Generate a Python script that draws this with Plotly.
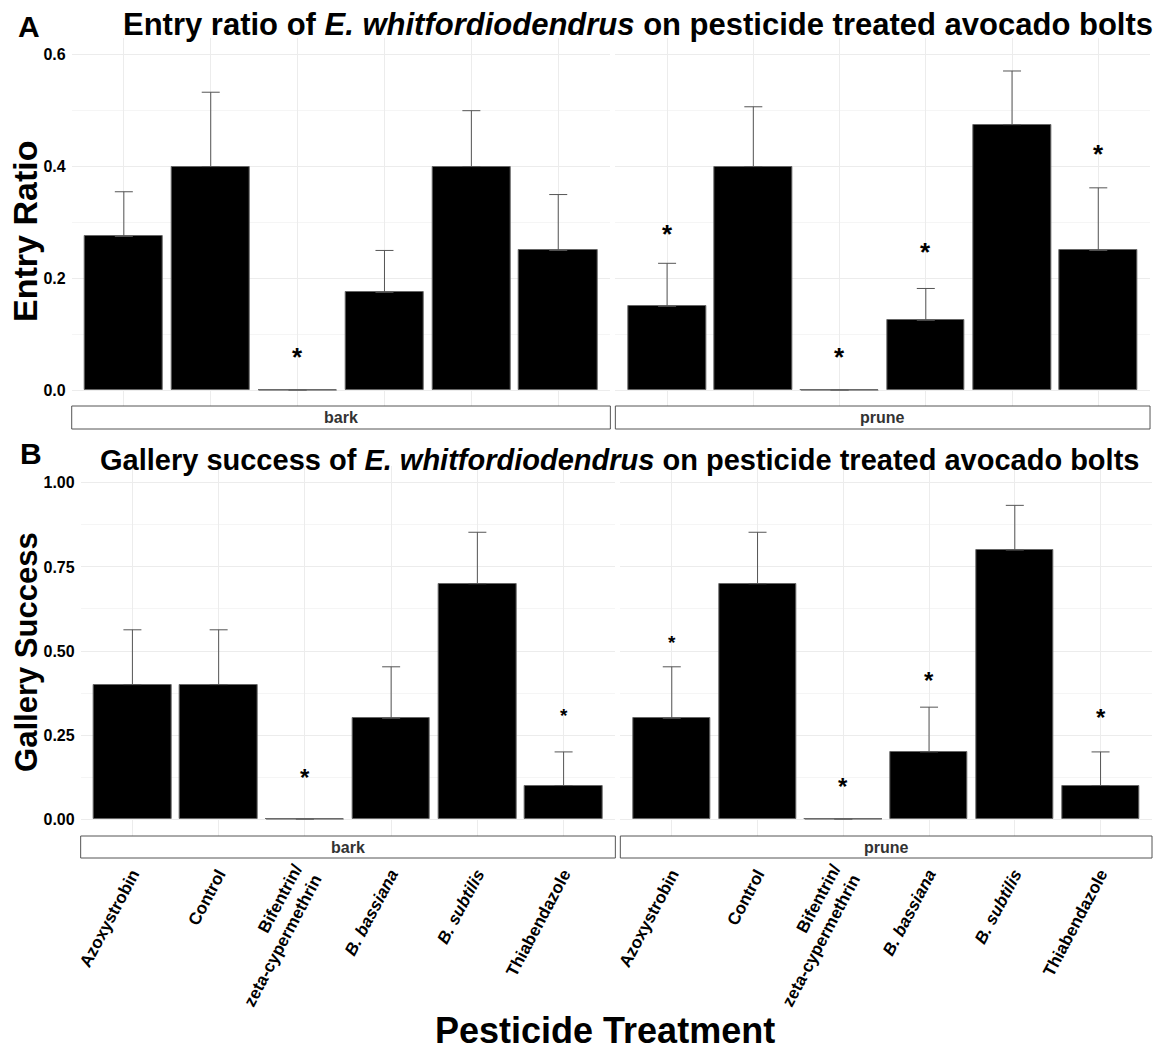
import plotly.graph_objects as go

W, H = 1155, 1053

# ---------------- data ----------------
treatments = ["Azoxystrobin", "Control", "Bifentrin/<br>zeta-cypermethrin",
              "<i>B. bassiana</i>", "<i>B. subtilis</i>", "Thiabendazole"]
facets = ["bark", "prune"]

entry_bark = [0.275, 0.40, 0.0, 0.175, 0.40, 0.25]
entry_bark_se = [0.08, 0.133, 0.0, 0.075, 0.10, 0.10]
entry_prune = [0.15, 0.40, 0.0, 0.125, 0.475, 0.25]
entry_prune_se = [0.077, 0.107, 0.0, 0.057, 0.096, 0.112]
entry_bark_star = [None, None, 0.069, None, None, None]
entry_prune_star = [0.29, None, 0.069, 0.257, None, 0.433]

gallery_bark = [0.40, 0.40, 0.0, 0.30, 0.70, 0.10]
gallery_bark_se = [0.163, 0.163, 0.0, 0.153, 0.153, 0.10]
gallery_prune = [0.30, 0.70, 0.0, 0.20, 0.80, 0.10]
gallery_prune_se = [0.153, 0.153, 0.0, 0.133, 0.133, 0.10]
gallery_bark_star = [None, None, 0.139, None, None, 0.321]
gallery_prune_star = [0.537, None, 0.114, 0.429, None, 0.317]

entry_ticks = [0.0, 0.2, 0.4, 0.6]
gallery_ticks = [0.0, 0.25, 0.50, 0.75, 1.00]

# ---------------- styles ----------------
FONT = "Liberation Sans, Arial, sans-serif"
BIG, SMALL = 26, 19
star_size_entry = [[BIG] * 6, [BIG] * 6]
star_size_gallery = [[BIG, BIG, 24, BIG, BIG, SMALL], [SMALL, BIG, 24, 24, BIG, 24]]


def px(x):
    return x / W


def py(y):
    return 1 - y / H


panels = [
    dict(name="A", vals=[entry_bark, entry_prune], se=[entry_bark_se, entry_prune_se],
         stars=[entry_bark_star, entry_prune_star], ssize=star_size_entry,
         ticks=entry_ticks, fmt=".1f", yrange=[-0.03, 0.63], minor=0.1,
         ydom=(407, 38), xdoms=[(67, 608), (613, 1150)], strip=(406, 429)),
    dict(name="B", vals=[gallery_bark, gallery_prune], se=[gallery_bark_se, gallery_prune_se],
         stars=[gallery_bark_star, gallery_prune_star], ssize=star_size_gallery,
         ticks=gallery_ticks, fmt=".2f", yrange=[-0.05, 1.05], minor=0.125,
         ydom=(836, 466), xdoms=[(76, 613), (618, 1152)], strip=(836, 858)),
]

fig = go.Figure()
layout = {}
annotations = []
shapes = []
idx = list(range(len(treatments)))
k = 0
for p in panels:
    for f in range(2):
        k += 1
        xa = "x" if k == 1 else f"x{k}"
        ya = "y" if k == 1 else f"y{k}"
        vals = p["vals"][f]
        se = p["se"][f]
        fig.add_trace(go.Bar(
            x=idx, y=vals, width=0.9, xaxis=xa, yaxis=ya,
            marker=dict(color="black", line=dict(color="#666666", width=1)),
            error_y=dict(type="data", array=se, arrayminus=[0] * len(se), symmetric=False,
                         color="#555555", thickness=1, width=9),
            showlegend=False, hoverinfo="skip"))
        # zero-height bars drawn as outline segment
        zx, zy = [], []
        for i, v in enumerate(vals):
            if v == 0:
                zx += [i - 0.45, i + 0.45, None]
                zy += [v, v, None]
        if zx:
            fig.add_trace(go.Scatter(x=zx, y=zy, mode="lines", xaxis=xa, yaxis=ya,
                                     line=dict(color="#777777", width=1),
                                     showlegend=False, hoverinfo="skip"))
        # asterisks
        for i, s in enumerate(p["stars"][f]):
            if s is not None:
                sz = p["ssize"][f][i]
                annotations.append(dict(x=i, y=s, xref=xa, yref=ya, text="<b>*</b>",
                                        showarrow=False, yshift=-sz * 0.22,
                                        xanchor="center", yanchor="middle",
                                        font=dict(family=FONT, size=sz, color="black")))
        x0, x1 = p["xdoms"][f]
        y0, y1 = p["ydom"]
        xkey = "xaxis" if k == 1 else f"xaxis{k}"
        ykey = "yaxis" if k == 1 else f"yaxis{k}"
        xdict = dict(domain=[px(x0), px(x1)], range=[-0.6, 5.6], tickvals=idx,
                     showgrid=True, gridcolor="#ececec", gridwidth=1, zeroline=False,
                     showline=False, ticks="", anchor=ya)
        if p["name"] == "B":
            xdict.update(ticktext=treatments, showticklabels=True, tickangle=-62,
                         anchor="free", position=py(p["strip"][1] + 2),
                         tickfont=dict(family=FONT, size=17, color="black", weight="bold"))
        else:
            xdict.update(showticklabels=False)
        layout[xkey] = xdict
        ydict = dict(domain=[py(y0), py(y1)], range=p["yrange"], tickvals=p["ticks"],
                     tickformat=p["fmt"], showgrid=True, gridcolor="#ececec", zeroline=False,
                     showline=False, ticks="", anchor=xa, ticklabelstandoff=5,
                     minor=dict(dtick=p["minor"], tick0=0, showgrid=True, gridcolor="#f5f5f5"),
                     tickfont=dict(family=FONT, size=16, color="black", weight="bold"),
                     showticklabels=(f == 0))
        layout[ykey] = ydict
        # strip
        s0, s1 = p["strip"]
        shapes.append(dict(type="rect", xref="paper", yref="paper",
                           x0=px(x0), x1=px(x1), y0=py(s1), y1=py(s0),
                           fillcolor="white", line=dict(color="#555555", width=1)))
        annotations.append(dict(x=px((x0 + x1) / 2), y=py((s0 + s1) / 2), xref="paper",
                                yref="paper", text=facets[f], showarrow=False,
                                xanchor="center", yanchor="middle",
                                font=dict(family=FONT, size=16, color="#333333", weight="bold")))

# titles and labels
extra = [
    dict(x=px(24), y=py(26), text="<b>A</b>", font=dict(family=FONT, size=30, color="black")),
    dict(x=px(26), y=py(453), text="<b>B</b>", font=dict(family=FONT, size=30, color="black")),
    dict(x=px(636), y=py(25),
         text="<b>Entry ratio of <i>E. whitfordiodendrus</i> on pesticide treated avocado bolts</b>",
         font=dict(family=FONT, size=31, color="black")),
    dict(x=px(617), y=py(460),
         text="<b>Gallery success of <i>E. whitfordiodendrus</i> on pesticide treated avocado bolts</b>",
         font=dict(family=FONT, size=29, color="black")),
    dict(x=px(20), y=py(231), text="<b>Entry Ratio</b>", textangle=-90,
         font=dict(family=FONT, size=34, color="black")),
    dict(x=px(21), y=py(652), text="<b>Gallery Success</b>", textangle=-90,
         font=dict(family=FONT, size=31, color="black")),
    dict(x=px(603), y=py(1030), text="<b>Pesticide Treatment</b>",
         font=dict(family=FONT, size=36, color="black")),
]
for a in extra:
    a.update(xref="paper", yref="paper", showarrow=False, xanchor="center", yanchor="middle")
annotations += extra

fig.update_layout(width=W, height=H, margin=dict(l=0, r=0, t=0, b=0),
                  paper_bgcolor="white", plot_bgcolor="white",
                  annotations=annotations, shapes=shapes, bargap=0, **layout)
fig.write_html("out.html")
